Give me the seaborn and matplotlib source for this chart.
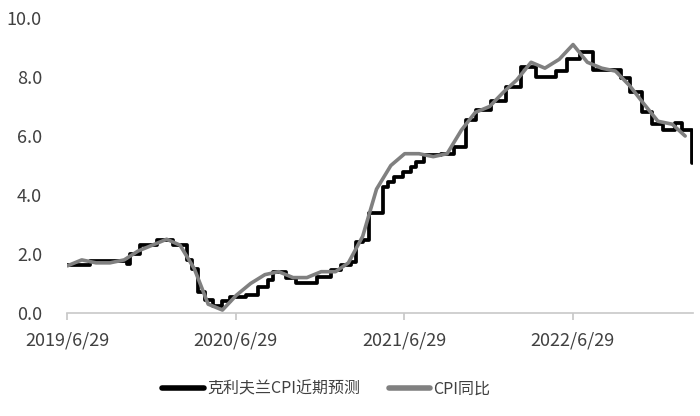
import matplotlib
matplotlib.use("Agg")
import matplotlib.pyplot as plt
import pandas as pd
import seaborn as sns

sns.set_theme(style="white")
plt.rcParams["font.family"] = ["Noto Sans CJK SC", "DejaVu Sans"]

# CPI同比, monthly (plotted at month end)
cpi_months = pd.date_range("2019-06-30", "2023-02-28", freq="ME")
cpi_yoy = [1.6, 1.8, 1.7, 1.7, 1.8, 2.1, 2.3,
           2.5, 2.3, 1.5, 0.3, 0.1, 0.6, 1.0, 1.3, 1.4, 1.2, 1.2, 1.4,
           1.4, 1.7, 2.6, 4.2, 5.0, 5.4, 5.4, 5.3, 5.4, 6.2, 6.8, 7.0,
           7.5, 7.9, 8.5, 8.3, 8.6, 9.1, 8.5, 8.3, 8.2, 7.7, 7.1, 6.5,
           6.4, 6.0]

# 克利夫兰CPI近期预测: change points of the nowcast step line
nowcast_dates = ["2019-06-29", "2019-08-18", "2019-11-06", "2019-11-13", "2019-12-05",
                 "2020-01-11", "2020-02-14", "2020-03-16", "2020-03-27", "2020-04-07",
                 "2020-04-24", "2020-05-11", "2020-05-31", "2020-06-17", "2020-07-20",
                 "2020-08-15", "2020-09-06", "2020-09-17", "2020-10-15", "2020-11-06",
                 "2020-12-23", "2021-01-21", "2021-02-12", "2021-03-05", "2021-03-16",
                 "2021-03-31", "2021-04-13", "2021-05-14", "2021-05-25", "2021-06-07",
                 "2021-06-26", "2021-07-14", "2021-07-25", "2021-08-11", "2021-09-17",
                 "2021-10-16", "2021-11-10", "2021-12-02", "2022-01-04", "2022-02-05",
                 "2022-03-09", "2022-04-11", "2022-05-23", "2022-06-16", "2022-07-14",
                 "2022-08-13", "2022-10-13", "2022-10-31", "2022-11-27", "2022-12-19",
                 "2023-01-10", "2023-02-07", "2023-02-22", "2023-03-15"]
nowcast_vals = [1.63, 1.75, 1.65, 2.0, 2.3,
                2.47, 2.3, 1.8, 1.5, 0.7,
                0.44, 0.25, 0.4, 0.55, 0.6,
                0.88, 1.12, 1.4, 1.18, 1.0,
                1.22, 1.46, 1.62, 1.72, 2.4,
                2.47, 3.4, 4.27, 4.45, 4.6,
                4.78, 4.95, 5.12, 5.35, 5.4,
                5.63, 6.54, 6.88, 7.2, 7.66,
                8.34, 8.0, 8.2, 8.6, 8.85,
                8.25, 7.97, 7.5, 6.8, 6.4,
                6.2, 6.45, 6.2, 5.1]

tick_dates = ["2019-06-29", "2020-06-29", "2021-06-29", "2022-06-29"]
tick_labels = ["2019/6/29", "2020/6/29", "2021/6/29", "2022/6/29"]

nowcast = pd.DataFrame({"date": pd.to_datetime(nowcast_dates), "val": nowcast_vals})
cpi = pd.DataFrame({"date": cpi_months, "val": cpi_yoy})

fig = plt.figure(figsize=(7, 4.16), dpi=100)
ax = fig.add_axes([0.0957, 0.2476, 0.8943, 0.7091])

sns.lineplot(data=nowcast, x="date", y="val", ax=ax, color="black", linewidth=2.7,
             drawstyle="steps-post", label="克利夫兰CPI近期预测")
sns.lineplot(data=cpi, x="date", y="val", ax=ax, color="#808080", linewidth=2.6,
             label="CPI同比")

ax.set_xlim(pd.Timestamp("2019-06-29"), pd.Timestamp("2023-03-17"))
ax.set_ylim(0, 10)
ax.set_yticks([0, 2, 4, 6, 8, 10])
ax.set_yticklabels([f"{v:.1f}" for v in [0, 2, 4, 6, 8, 10]])
ax.set_xticks(pd.to_datetime(tick_dates))
ax.set_xticklabels(tick_labels)
ax.set_xlabel("")
ax.set_ylabel("")

for side in ["top", "right", "left"]:
    ax.spines[side].set_visible(False)
ax.spines["bottom"].set_color("#c8c8c8")
ax.spines["bottom"].set_linewidth(1.2)
ax.tick_params(axis="x", bottom=True, length=5, color="#c8c8c8", labelsize=13,
               labelcolor="#404040", pad=8)
ax.tick_params(axis="y", left=False, length=0, labelsize=13, labelcolor="#404040", pad=18)

ax.get_legend().remove()
handles, labels = ax.get_legend_handles_labels()
leg = fig.legend(handles, labels, loc="center", bbox_to_anchor=(0.466, 0.065), ncol=2,
                 frameon=False, fontsize=11.5, handlelength=2.6, columnspacing=1.8,
                 handletextpad=0.2)
for line in leg.get_lines():
    line.set_linewidth(4)
for t in leg.get_texts():
    t.set_color("#404040")

fig.savefig("out.png", dpi=100)
